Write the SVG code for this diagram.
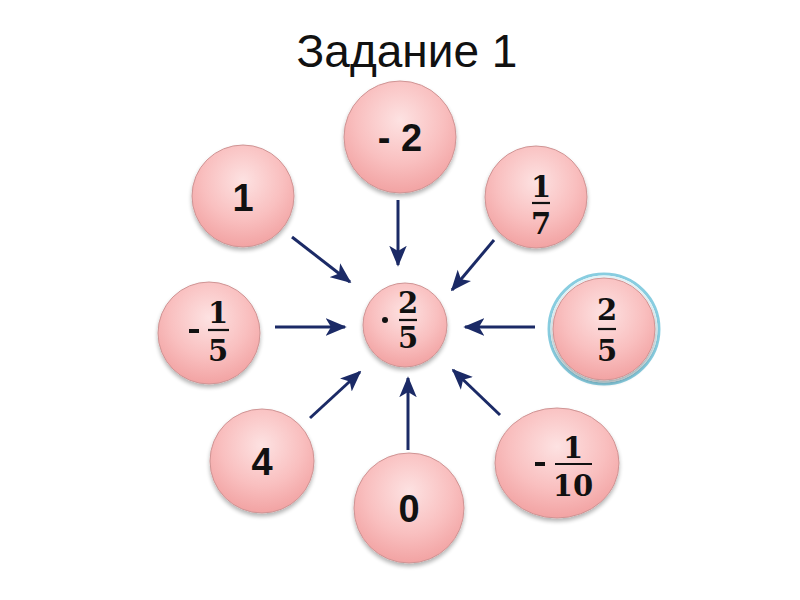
<svg xmlns="http://www.w3.org/2000/svg" width="800" height="600" viewBox="0 0 800 600">
<defs>
<radialGradient id="pink" cx="50%" cy="35%" r="65%">
<stop offset="0" stop-color="#fde2e2"/>
<stop offset="0.6" stop-color="#f9bfbf"/>
<stop offset="1" stop-color="#f2a3a3"/>
</radialGradient>
<filter id="sh" x="-20%" y="-20%" width="140%" height="150%">
<feGaussianBlur in="SourceAlpha" stdDeviation="2"/>
<feOffset dx="0" dy="3" result="b"/>
<feComponentTransfer><feFuncA type="linear" slope="0.3"/></feComponentTransfer>
<feMerge><feMergeNode/><feMergeNode in="SourceGraphic"/></feMerge>
</filter>
<marker id="ah" viewBox="0 0 12 10" refX="11" refY="5" markerWidth="7" markerHeight="6" orient="auto" markerUnits="strokeWidth">
<path d="M0,0 L12,5 L0,10 L3,5 Z" fill="#1b2a66"/>
</marker>
</defs>
<style>
.c{fill:url(#pink);stroke:#cf9494;stroke-width:1;filter:url(#sh)}
.n{font-family:"Liberation Sans",Arial,sans-serif;font-weight:bold;font-size:38px;fill:#111;text-anchor:middle}
.f{font-family:"DejaVu Serif","Liberation Serif",serif;font-weight:bold;font-size:29px;fill:#111;text-anchor:middle}
.bar{stroke:#111;stroke-width:2.2}
.a{stroke:#1b2a66;stroke-width:3;fill:none;marker-end:url(#ah)}
</style>
<rect width="800" height="600" fill="#fff"/>
<text x="407" y="67" font-family="Liberation Sans, Arial, sans-serif" font-size="46" text-anchor="middle" fill="#111">Задание 1</text>

<g id="connectors">
<line class="a" x1="292" y1="237" x2="350" y2="282"/>
<line class="a" x1="398" y1="200" x2="398" y2="265"/>
<line class="a" x1="494" y1="240" x2="452" y2="290"/>
<line class="a" x1="275" y1="327" x2="345" y2="327"/>
<line class="a" x1="535" y1="327" x2="465" y2="327"/>
<line class="a" x1="310" y1="418" x2="360" y2="372"/>
<line class="a" x1="408" y1="450" x2="408" y2="378"/>
<line class="a" x1="500" y1="415" x2="453" y2="370"/>
</g>

<g id="node-center">
<circle class="c" cx="405" cy="325" r="42"/>
<circle cx="385" cy="320" r="3" fill="#111"/>
<text class="f" x="408" y="313">2</text>
<line class="bar" x1="399" y1="320" x2="417" y2="320"/>
<text class="f" x="408" y="348">5</text>
</g>

<g id="node-m2">
<circle class="c" cx="400" cy="137" r="56"/>
<text class="n" x="400" y="151">- 2</text>
</g>

<g id="node-1">
<circle class="c" cx="243" cy="196" r="51"/>
<text class="n" x="243" y="211">1</text>
</g>

<g id="node-1-7">
<circle class="c" cx="536" cy="197" r="51"/>
<text class="f" x="541" y="197">1</text>
<line class="bar" x1="532" y1="203" x2="550" y2="203"/>
<text class="f" x="541" y="234">7</text>
</g>

<g id="node-m1-5">
<circle class="c" cx="209" cy="333" r="51"/>
<rect x="189" y="329" width="10" height="4" fill="#111"/>
<text class="f" x="218" y="323">1</text>
<line class="bar" x1="208" y1="330" x2="229" y2="330"/>
<text class="f" x="218" y="361">5</text>
</g>

<g id="node-2-5">
<circle cx="604" cy="329" r="55" fill="none" stroke="#88cde0" stroke-width="3"/>
<circle cx="604" cy="329" r="52.5" fill="none" stroke="#e3f3f7" stroke-width="2"/>
<circle class="c" cx="604" cy="329" r="51"/>
<text class="f" x="607" y="320">2</text>
<line class="bar" x1="598" y1="329" x2="616" y2="329"/>
<text class="f" x="607" y="361">5</text>
</g>

<g id="node-4">
<circle class="c" cx="262" cy="461" r="52"/>
<text class="n" x="262" y="475">4</text>
</g>

<g id="node-0">
<circle class="c" cx="409" cy="508" r="55"/>
<text class="n" x="409" y="522">0</text>
</g>

<g id="node-m1-10">
<ellipse class="c" cx="557" cy="463" rx="62" ry="55"/>
<rect x="535" y="462" width="10" height="4" fill="#111"/>
<text class="f" x="573" y="458">1</text>
<line class="bar" x1="555" y1="464" x2="592" y2="464"/>
<text class="f" x="573" y="496">10</text>
</g>
</svg>
